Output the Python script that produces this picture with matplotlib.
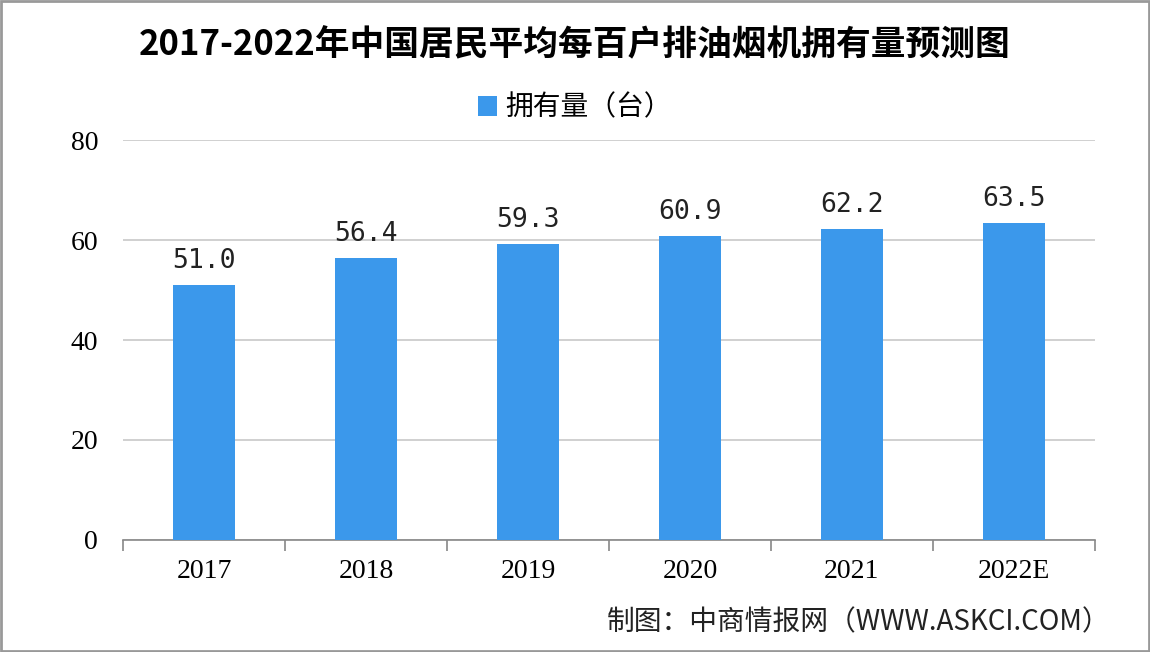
import matplotlib
matplotlib.use('Agg')
from matplotlib import pyplot as plt
import numpy as np

plt.rcParams['font.family'] = ['Noto Sans CJK SC', 'DejaVu Sans']

# data
years = ['2017', '2018', '2019', '2020', '2021', '2022E']
owned = [51.0, 56.4, 59.3, 60.9, 62.2, 63.5]
yticks = [0, 20, 40, 60, 80]

title = '2017-2022年中国居民平均每百户排油烟机拥有量预测图'
series_name = '拥有量（台）'
source = '制图：中商情报网（WWW.ASKCI.COM）'

bar_color = '#3b98eb'
grid_color = '#c8c8c8'

fig = plt.figure(figsize=(11.5, 6.52), dpi=100)
fig.patch.set_facecolor('white')
ax = fig.add_axes([0.107, 0.172, 0.845, 0.613])

x = np.arange(len(years))
bars = ax.bar(x, owned, width=0.38, color=bar_color, zorder=3, label=series_name)
for xi, v in zip(x, owned):
    ax.text(xi, v + 2.2, '{:.1f}'.format(v), ha='center', va='bottom',
            fontsize=19, family=['DejaVu Sans Mono'], color='#222222')

ax.set_xlim(-0.5, len(years) - 0.5)
ax.set_ylim(0, 80)
ax.set_yticks(yticks)
ax.set_yticklabels([str(t) for t in yticks], fontsize=20, family=['Liberation Serif'])
ax.yaxis.grid(True, color=grid_color, lw=1.2, zorder=0)
ax.tick_params(axis='y', length=0, pad=18)

# category labels in the middle, tick marks at the boundaries
ax.set_xticks(x)
ax.set_xticklabels(years, fontsize=20, family=['Liberation Serif'])
ax.tick_params(axis='x', which='major', length=0, pad=14)
ax.set_xticks(np.arange(-0.5, len(years)), minor=True)
ax.tick_params(axis='x', which='minor', length=8, color='#888888', width=1.2)

for s in ['top', 'right', 'left']:
    ax.spines[s].set_visible(False)
ax.spines['bottom'].set_color('#888888')
ax.spines['bottom'].set_linewidth(1.2)

fig.text(0.5, 0.931, title, ha='center', va='center', fontsize=25, fontweight='bold')
fig.legend(handles=[bars], labels=[series_name], loc='center', bbox_to_anchor=(0.5, 0.835),
           frameon=False, fontsize=20, handlelength=0.7, handleheight=0.7, handletextpad=0.3)
fig.text(0.966, 0.045, source, ha='right', va='center', fontsize=20, color='#222222')

# thin frame around the picture
fig.add_artist(plt.Rectangle((0.001, 0.002), 0.998, 0.996, transform=fig.transFigure,
                             fill=False, edgecolor='#999999', lw=2))

fig.savefig('out.png', dpi=100)
